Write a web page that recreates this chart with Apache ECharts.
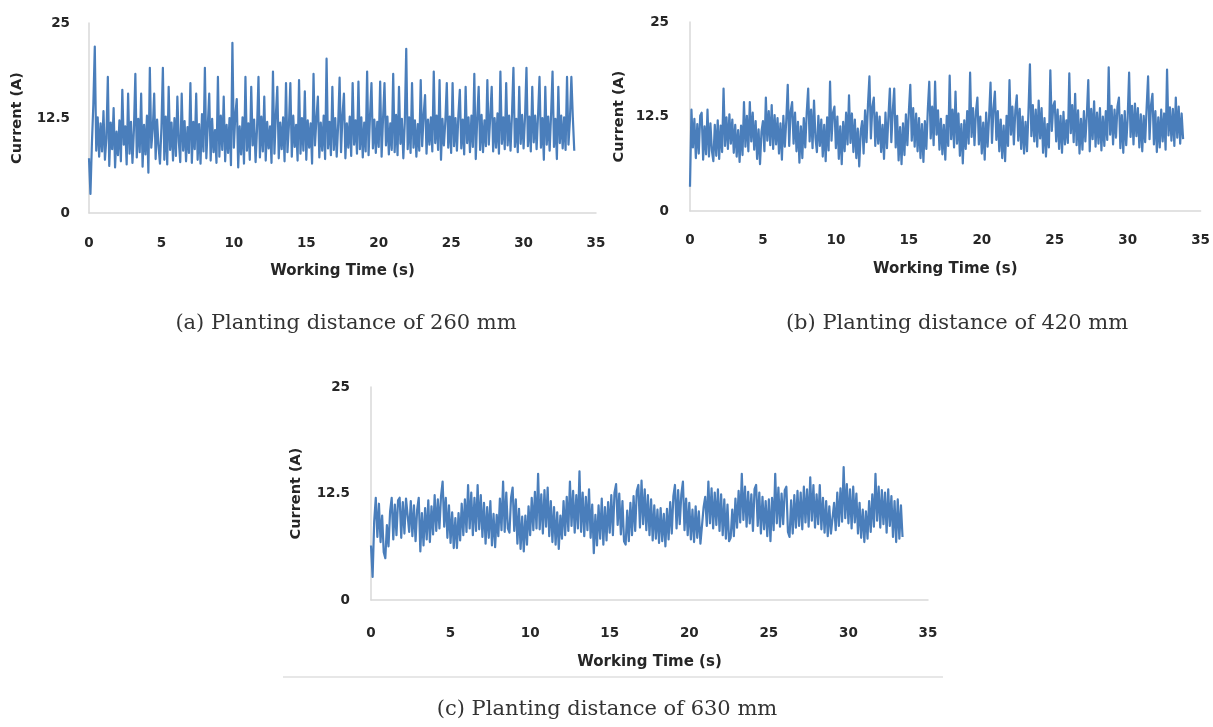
<!DOCTYPE html>
<html>
<head>
<meta charset="utf-8">
<script src="https://cdn.jsdelivr.net/npm/echarts@6/dist/echarts.min.js"></script>
<style>
html,body{margin:0;padding:0;background:#fff;}
#chart{width:1213px;height:727px;}
</style>
</head>
<body>
<div id="chart"></div>
<script>
// ---- data (sampled every 0.1 s) ----
const TIME_STEP = 0.1;
const X_TICKS = [0, 5, 10, 15, 20, 25, 30, 35];
const Y_TICKS = [0, 12.5, 25];
const CAPTIONS = ['(a) Planting distance of 260 mm', '(b) Planting distance of 420 mm', '(c) Planting distance of 630 mm'];
const X_NAME = 'Working Time (s)';
const Y_NAME = 'Current (A)';

const currentA = [
7.2,2.5,9.1,14.3,21.9,8.2,12.6,7.4,11.8,8.1,
13.4,7.0,9.8,17.9,6.2,11.9,8.4,13.8,6.0,10.7,
7.6,12.2,6.8,16.2,9.0,11.4,6.4,15.7,7.8,12.0,
6.6,10.9,18.3,7.3,12.4,8.0,15.7,6.1,11.6,7.7,
12.8,5.3,19.1,8.6,11.0,15.7,7.1,12.3,8.8,6.5,
11.2,19.1,7.0,12.7,6.4,16.6,8.3,11.9,6.9,12.5,
7.5,15.3,9.4,6.7,15.7,8.2,12.1,6.8,11.3,7.9,
17.1,6.6,12.0,8.4,15.7,7.0,11.7,6.5,13.0,8.1,
19.1,7.2,11.5,15.7,6.9,12.4,8.0,10.9,6.6,17.9,
7.4,12.8,8.3,15.3,6.8,11.6,7.9,12.5,6.3,22.4,
8.6,12.9,15.0,6.0,11.4,7.7,12.6,6.5,17.9,8.2,
11.8,7.0,16.6,8.9,12.3,6.7,11.1,17.9,7.3,12.7,
8.1,15.3,6.9,12.0,8.5,11.4,6.6,18.6,7.8,12.9,
16.6,7.2,11.9,8.4,12.6,6.8,17.1,8.0,11.5,17.1,
7.4,12.8,8.7,11.6,6.9,17.5,7.8,12.5,8.2,16.0,
7.0,12.2,8.6,11.8,6.5,18.3,8.9,12.4,15.3,7.3,
11.9,8.2,12.8,7.1,20.3,8.5,12.0,7.6,16.6,8.3,
12.5,7.4,11.6,17.8,8.0,12.9,15.7,7.2,11.8,8.6,
12.7,7.5,17.1,9.0,12.2,7.8,17.3,8.4,12.6,7.3,
11.9,8.1,18.6,7.6,12.8,17.1,8.5,12.3,7.9,12.0,
8.7,17.3,7.4,12.5,17.1,8.9,12.7,7.7,11.8,8.3,
18.3,8.0,12.9,7.6,16.6,9.1,12.4,7.2,11.9,21.6,
8.4,12.6,7.9,17.1,8.6,12.2,7.4,11.7,8.2,17.5,
8.8,12.9,15.5,7.8,12.3,9.0,12.6,8.1,18.6,9.2,
12.8,8.3,17.5,7.0,12.4,8.9,12.1,17.1,8.6,12.7,
7.9,17.1,8.8,12.5,8.2,12.9,16.2,8.5,12.3,7.7,
16.6,9.2,12.6,8.0,12.8,8.7,18.3,7.1,12.4,16.6,
8.3,12.9,8.0,12.2,8.8,17.5,9.0,12.7,16.6,8.1,
12.5,8.6,13.1,7.8,18.6,9.1,12.6,8.4,17.1,8.9,
12.8,8.2,13.0,19.1,8.7,12.4,8.0,16.6,9.1,12.9,
8.5,12.6,19.1,8.8,12.7,8.1,16.6,9.3,12.8,8.4,
12.9,17.9,8.6,12.5,7.0,16.6,9.0,12.7,8.2,13.0,
18.6,8.7,12.4,7.1,16.6,9.2,12.8,8.5,12.6,8.3,
17.9,9.0,12.3,17.9,12.6,8.2
];

const currentB = [
3.2,13.4,8.4,12.2,7.0,11.5,7.6,12.6,13.0,6.8,
11.2,7.5,13.4,7.2,11.6,8.0,6.6,11.4,7.3,12.0,
6.9,11.3,7.8,16.2,8.6,12.4,8.2,12.8,8.9,12.1,
7.7,11.4,7.2,10.7,6.5,11.3,7.4,14.4,8.5,12.6,
7.9,14.4,9.2,13.0,8.1,11.9,6.9,10.8,6.2,10.5,
11.9,7.9,15.0,9.3,13.2,8.7,14.0,8.2,12.7,8.8,
12.3,7.6,11.6,6.8,12.6,8.5,12.0,16.7,8.6,13.2,
14.4,8.9,13.0,7.9,11.8,6.4,11.2,7.0,12.3,8.4,
13.0,16.2,9.2,13.4,8.3,14.6,9.7,7.8,12.6,8.6,
12.1,7.2,11.4,6.6,12.4,8.0,17.1,9.3,13.0,13.8,
8.3,12.5,6.9,11.2,6.2,11.8,7.9,13.0,8.8,15.3,
9.0,12.9,7.8,12.1,7.0,10.9,5.9,10.5,11.9,7.6,
13.3,9.1,14.1,17.8,9.6,13.8,15.0,8.6,13.0,8.9,
12.5,7.8,11.4,6.9,13.0,8.3,12.4,16.2,9.1,13.3,
16.2,8.4,12.6,6.7,11.1,6.2,11.6,7.4,12.8,8.7,
13.1,16.7,9.3,13.6,8.5,12.9,7.9,12.3,7.0,11.5,
6.5,11.9,8.2,13.4,17.1,9.6,13.8,8.7,17.1,10.1,
13.3,8.1,12.2,7.5,11.4,6.8,12.6,8.6,17.9,9.5,
13.4,8.4,15.8,8.9,12.9,7.3,11.5,6.3,12.0,8.2,
13.2,8.9,18.3,9.8,13.6,8.7,13.1,15.0,8.8,12.5,
7.6,11.7,6.8,13.0,8.5,12.4,17.0,9.0,13.5,15.8,
9.4,13.2,7.9,12.1,7.0,11.3,6.6,12.6,8.6,17.3,
10.1,13.8,8.8,13.3,15.3,9.3,13.5,8.2,12.5,7.6,
11.8,7.9,13.1,19.4,9.9,14.0,9.2,13.4,8.5,14.6,
9.6,13.6,7.7,12.3,7.2,11.5,8.4,18.6,10.6,13.9,
14.5,9.2,13.4,8.2,12.6,7.7,13.1,8.8,12.0,9.0,
18.2,10.3,14.0,9.1,15.5,8.7,13.3,7.6,12.2,8.1,
13.2,9.2,12.6,17.3,7.9,13.5,9.5,14.5,8.5,13.0,
8.9,13.6,8.0,12.5,8.6,13.2,9.4,19.0,10.1,13.9,
8.8,13.4,9.7,13.8,15.0,8.3,12.7,7.7,13.2,8.7,
12.3,18.3,9.8,13.9,8.8,14.2,9.9,13.6,8.4,12.8,
7.9,12.6,9.1,13.7,17.8,9.5,14.0,15.5,8.8,13.2,
7.8,12.4,8.4,13.4,9.2,12.9,8.1,18.7,10.0,13.7,
9.3,13.5,8.6,15.0,9.7,13.8,8.9,12.9,9.5
];

const currentC = [
6.4,2.7,9.2,12.0,7.4,11.3,6.8,9.9,5.6,4.9,
8.8,6.3,10.4,12.0,7.1,11.2,7.6,11.7,12.0,7.3,
11.5,7.8,11.9,12.0,8.0,11.6,7.5,11.1,6.9,10.6,
12.0,5.7,10.2,6.4,10.8,7.1,11.7,6.8,11.0,7.7,
12.3,8.1,11.8,8.4,12.2,13.9,8.6,12.0,7.3,11.1,
6.7,10.3,6.1,9.6,6.1,10.2,7.0,11.3,7.6,11.8,
8.0,13.5,8.4,12.6,7.6,12.0,8.1,13.5,8.3,12.3,
7.4,11.4,6.6,10.9,7.3,11.6,6.4,10.1,6.2,10.0,
7.5,11.9,8.2,13.9,8.0,12.6,8.4,7.9,12.0,13.2,
8.1,11.8,6.6,10.7,6.0,9.8,5.7,9.9,6.5,11.0,
7.6,12.0,8.2,12.7,8.4,14.8,8.3,12.4,7.8,12.9,
8.6,13.2,7.5,11.6,6.8,10.9,6.5,10.3,6.0,9.9,
7.2,11.6,7.6,12.1,8.1,13.9,8.7,12.8,7.9,12.3,
8.4,15.1,8.0,12.6,7.5,12.1,8.2,13.0,7.3,11.2,
5.5,10.0,6.4,11.1,7.2,11.9,6.5,10.9,7.0,11.5,
7.9,12.3,7.6,12.6,13.6,8.8,12.5,7.7,11.6,6.9,
6.5,10.5,6.9,11.4,7.6,12.2,8.1,12.8,13.5,8.5,
14.0,8.9,13.0,8.2,12.3,7.6,11.8,7.0,11.1,7.2,
10.6,6.7,10.8,6.9,10.1,6.3,10.7,7.1,11.5,7.8,
12.2,13.5,8.4,12.9,8.9,12.4,13.9,8.2,11.9,7.6,
11.4,7.1,10.6,6.8,11.0,7.3,10.4,6.6,6.7,10.9,
12.1,8.7,13.9,9.0,13.1,8.4,12.6,8.8,13.0,8.1,
12.4,7.6,11.8,7.2,11.2,6.9,7.3,10.6,7.5,11.9,
8.5,12.8,9.1,14.8,9.4,13.3,8.6,12.7,9.0,12.4,
8.1,13.0,13.5,8.7,12.6,7.8,12.1,8.3,11.6,7.5,
11.8,6.9,12.0,8.2,14.8,9.0,13.2,8.6,12.5,8.9,
12.9,13.3,8.0,7.4,11.7,7.8,12.3,8.5,12.8,8.7,
12.6,8.3,13.3,9.1,13.0,8.6,14.4,9.3,13.5,8.5,
12.4,8.9,13.5,8.3,12.0,7.9,11.6,7.5,11.0,7.8,
7.9,11.4,8.2,12.6,8.7,13.1,9.2,15.6,9.6,13.6,
9.0,13.0,8.4,13.3,9.1,12.5,7.8,11.4,7.3,10.6,
6.8,10.4,7.2,11.6,8.0,12.4,8.6,14.8,9.3,13.3,
8.5,12.9,8.9,12.6,7.9,13.0,8.7,12.2,7.4,11.6,
6.8,11.8,7.2,11.1,7.4
];

// ---- build ----
function toPoints(arr) {
  return arr.map((v, i) => [Math.round(i * TIME_STEP * 10) / 10, v]);
}

const XNAME_FONT = { fontFamily: 'DejaVu Sans', fontWeight: 'bold', fontSize: 15, color: '#262626' };
const YNAME_FONT = { fontFamily: 'DejaVu Sans', fontWeight: 'bold', fontSize: 14.5, color: '#262626' };
const TICK_FONT = { fontFamily: 'DejaVu Sans', fontWeight: 'bold', fontSize: 13.5, color: '#262626' };
const LINE_COLOR = '#4a7ebb';
const AXIS_LINE = { show: true, lineStyle: { color: '#d9d9d9', width: 1.5 } };

const grids = [
  { left: 89, top: 23, width: 507, height: 190 },
  { left: 690, top: 22, width: 513, height: 189 },
  { left: 371, top: 387, width: 557, height: 213 }
];
const xLayout = [
  { labelMargin: 23, nameGap: 51 },
  { labelMargin: 22, nameGap: 51 },
  { labelMargin: 26, nameGap: 55 }
];
const yLayout = [
  { labelMargin: 19, nameGap: 64 },
  { labelMargin: 21, nameGap: 63 },
  { labelMargin: 21, nameGap: 67 }
];

const xMin = X_TICKS[0], xMax = X_TICKS[X_TICKS.length - 1], xInt = X_TICKS[1] - X_TICKS[0];
const yMin = Y_TICKS[0], yMax = Y_TICKS[Y_TICKS.length - 1], yInt = Y_TICKS[1] - Y_TICKS[0];

const xAxes = grids.map((g, i) => ({
  type: 'value', gridIndex: i, min: xMin, max: xMax, interval: xInt,
  name: X_NAME, nameLocation: 'middle', nameGap: xLayout[i].nameGap,
  nameTextStyle: XNAME_FONT,
  axisLine: AXIS_LINE, axisTick: { show: false }, splitLine: { show: false },
  axisLabel: Object.assign({ margin: xLayout[i].labelMargin }, TICK_FONT)
}));
const yAxes = grids.map((g, i) => ({
  type: 'value', gridIndex: i, min: yMin, max: yMax, interval: yInt,
  name: Y_NAME, nameLocation: 'middle', nameGap: yLayout[i].nameGap,
  nameTextStyle: YNAME_FONT,
  axisLine: AXIS_LINE, axisTick: { show: false }, splitLine: { show: false },
  axisLabel: Object.assign({ margin: yLayout[i].labelMargin }, TICK_FONT)
}));

const seriesData = [currentA, currentB, currentC];
const series = seriesData.map((arr, i) => ({
  type: 'line', xAxisIndex: i, yAxisIndex: i,
  data: toPoints(arr), showSymbol: false, smooth: false,
  lineStyle: { color: LINE_COLOR, width: 2.2, join: 'round' },
  itemStyle: { color: LINE_COLOR },
  silent: true
}));

const CAPTION_STYLE = { fontFamily: 'DejaVu Serif', fontSize: 21, fill: '#333', align: 'center', verticalAlign: 'middle' };
const captionPos = [[346, 324], [957, 324], [607, 710]];

const chart = echarts.init(document.getElementById('chart'), null, { renderer: 'canvas' });
chart.setOption({
  animation: false,
  backgroundColor: '#fff',
  grid: grids,
  xAxis: xAxes,
  yAxis: yAxes,
  series: series,
  graphic: [
    { type: 'line', shape: { x1: 283, y1: 677, x2: 943, y2: 677 }, style: { stroke: '#cfcfcf', lineWidth: 1 } }
  ].concat(CAPTIONS.map((t, i) => ({
    type: 'text', x: captionPos[i][0], y: captionPos[i][1],
    style: Object.assign({ text: t }, CAPTION_STYLE)
  })))
});
</script>
</body>
</html>
